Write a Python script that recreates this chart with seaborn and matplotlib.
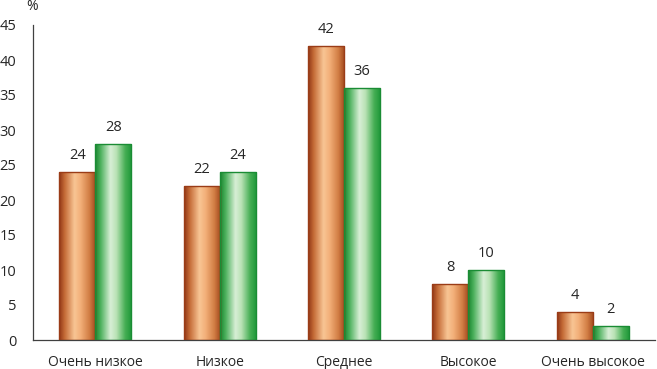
import numpy as np
import pandas as pd
import matplotlib
matplotlib.use("Agg")
import matplotlib.pyplot as plt
import seaborn as sns
from matplotlib.colors import LinearSegmentedColormap

categories = ["Очень низкое", "Низкое", "Среднее", "Высокое", "Очень высокое"]
series_names = ["Ряд 1", "Ряд 2"]
values_1 = [24, 22, 42, 8, 4]
values_2 = [28, 24, 36, 10, 2]
y_ticks = [0, 5, 10, 15, 20, 25, 30, 35, 40, 45]

df = pd.DataFrame({
    "cat": categories * 2,
    "series": [series_names[0]] * len(categories) + [series_names[1]] * len(categories),
    "val": values_1 + values_2,
})

sns.set_style("white")
plt.rcParams["font.family"] = ["Open Sans", "DejaVu Sans"]

fig = plt.figure(figsize=(6.57, 3.69), dpi=100)
ax = fig.add_axes([33 / 657, 1 - 340 / 369, 622 / 657, 315 / 369])

sns.barplot(data=df, x="cat", y="val", hue="series", order=categories,
            hue_order=series_names, palette=["#d07a40", "#40b055"],
            width=0.58, legend=False, ax=ax, errorbar=None)

cmap_o = LinearSegmentedColormap.from_list("o", [
    (0.0, "#8f3515"), (0.15, "#c46a36"), (0.42, "#f8c594"),
    (0.58, "#f3b07a"), (0.82, "#d27e45"), (1.0, "#a0461b")])
cmap_g = LinearSegmentedColormap.from_list("g", [
    (0.0, "#17842f"), (0.15, "#4cb05c"), (0.42, "#d8efd6"),
    (0.58, "#b9e2b5"), (0.82, "#45ae54"), (1.0, "#1c9637")])
edge_o = "#9a3c17"
edge_g = "#1a8c34"

grad = np.linspace(0, 1, 256).reshape(1, -1)
n = len(categories)
for i, p in enumerate(ax.patches[:2 * n]):
    cmap = cmap_o if i < n else cmap_g
    ec = edge_o if i < n else edge_g
    x0, y0 = p.get_x(), p.get_y()
    w, h = p.get_width(), p.get_height()
    im = ax.imshow(grad, cmap=cmap, aspect="auto",
                   extent=[x0, x0 + w, y0, y0 + h], zorder=2,
                   interpolation="bilinear")
    im.set_clip_path(p)
    p.set_facecolor("none")
    p.set_edgecolor(ec)
    p.set_linewidth(1.0)
    p.set_zorder(3)

for c in ax.containers:
    ax.bar_label(c, fmt="%g", padding=6.5, fontsize=10.5, color="#262626")

ax.set_xlim(-0.5, n - 0.5)
ax.set_ylim(0, 45)
ax.set_yticks(y_ticks)
ax.set_xlabel("")
ax.set_ylabel("")
ax.set_xticks(range(n))
ax.set_xticklabels(categories)
ax.set_xticks(np.arange(-0.5, n, 1.0), minor=True)
ax.tick_params(axis="x", which="major", length=0, pad=11, labelsize=10, labelcolor="#262626")
ax.tick_params(axis="x", which="minor", length=5, width=0.8, color="#404040", direction="out")
ax.tick_params(axis="y", length=4, width=0.8, color="#404040", direction="out",
               labelsize=10.5, labelcolor="#262626", pad=8)
for s in ["top", "right"]:
    ax.spines[s].set_visible(False)
for s in ["left", "bottom"]:
    ax.spines[s].set_color("#404040")
    ax.spines[s].set_linewidth(0.9)

fig.text(32 / 657, 1 - 6 / 369, "%", ha="center", va="center", fontsize=10, color="#262626")

fig.savefig("out.png", dpi=100)
